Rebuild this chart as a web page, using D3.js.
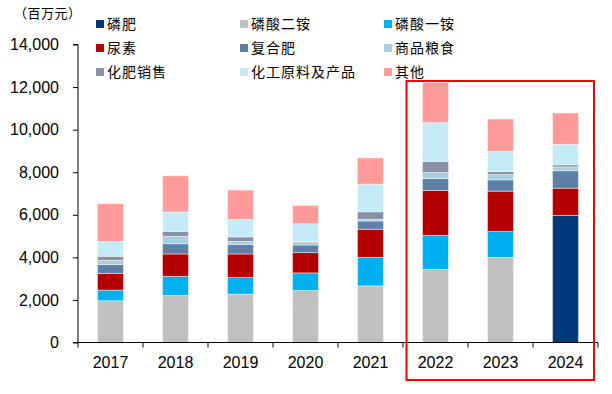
<!DOCTYPE html>
<html><head><meta charset="utf-8">
<script src="https://cdn.jsdelivr.net/npm/d3@7"></script>
<style>body{margin:0;background:#fff}svg{display:block}</style>
</head><body><svg id="c" width="612" height="394"></svg>
<script>
const years = ['2017','2018','2019','2020','2021','2022','2023','2024'];
const seriesNames = ['磷肥','磷酸二铵','磷酸一铵','尿素','复合肥','商品粮食','化肥销售','化工原料及产品','其他'];
const linfei   = [0,0,0,0,0,0,0,5970];
const dap      = [1960,2210,2270,2440,2660,3430,4000,0];
const map      = [500,900,780,830,1340,1600,1210,0];
const urea     = [780,1050,1110,950,1320,2110,1900,1280];
const compound = [420,480,450,360,390,560,530,820];
const grain    = [200,350,140,110,70,290,250,180];
const fertSale = [190,230,210,50,360,520,140,100];
const chem     = [690,910,820,840,1300,1820,950,960];
const other    = [1780,1700,1380,860,1230,1890,1520,1470];
const yTicks = [0,2000,4000,6000,8000,10000,12000,14000];
const colors = ['#003878','#c0c0c0','#00b0f0','#b40000','#5e80a8','#a8cfe0','#8890a8','#c5eaf8','#ff9a9a'];

const seriesVals = [linfei,dap,map,urea,compound,grain,fertSale,chem,other];
const rows = years.map((y,i)=>{const r={year:y}; seriesNames.forEach((n,k)=>r[n]=seriesVals[k][i]); return r;});
const stacked = d3.stack().keys(seriesNames)(rows);

const svg = d3.select('#c');
const x = d3.scaleBand().domain(years).range([78,598]).paddingInner(0.6).paddingOuter(0.3);
const y = d3.scaleLinear().domain([0,14000]).range([342.5,44.5]);

svg.append('g').selectAll('g').data(stacked).join('g')
  .attr('fill',(d,i)=>colors[i])
  .selectAll('rect').data(d=>d).join('rect')
  .attr('x',d=>x(d.data.year))
  .attr('width',x.bandwidth())
  .attr('y',d=>y(d[1]))
  .attr('height',d=>Math.max(0,y(d[0])-y(d[1])))
  .attr('stroke','rgba(255,255,255,0.55)').attr('stroke-width',0.8);

// y axis
const ya = svg.append('g').attr('transform','translate(78,0)')
  .call(d3.axisLeft(y).tickValues(yTicks).tickFormat(d3.format(',')).tickSize(5).tickPadding(14));
ya.select('.domain').attr('stroke','#000').attr('d','M-5,'+y(14000)+'H0V'+y(0));
ya.selectAll('.tick line').attr('stroke','#000');
ya.selectAll('text').attr('font-family','"Liberation Sans", Arial, sans-serif').attr('font-size',16).attr('fill','#000');

// x axis
svg.append('line').attr('x1',73).attr('x2',598).attr('y1',y(0)).attr('y2',y(0)).attr('stroke','#000');
const bounds = d3.range(years.length+1).map(i=>78+i*x.step());
svg.append('g').selectAll('line').data(bounds).join('line')
  .attr('x1',d=>d).attr('x2',d=>d).attr('y1',y(0)).attr('y2',y(0)+5).attr('stroke','#000');
svg.append('g').selectAll('text').data(years).join('text')
  .attr('x',d=>x(d)+x.bandwidth()/2).attr('y',368)
  .attr('text-anchor','middle')
  .attr('font-family','"Liberation Sans", Arial, sans-serif').attr('font-size',16).attr('fill','#000')
  .text(d=>d);

// unit
svg.append('text').attr('x',14).attr('y',18)
  .attr('font-family','"Noto Sans CJK SC", sans-serif').attr('font-size',13).attr('fill','#000')
  .attr('letter-spacing',0.5)
  .text('（百万元）');

// legend
const colX = [96,240,384], rowY = [24,48,72];
const lg = svg.append('g').selectAll('g').data(seriesNames).join('g')
  .attr('transform',(d,i)=>`translate(${colX[i%3]},${rowY[Math.floor(i/3)]})`);
lg.append('rect').attr('x',0).attr('y',-4).attr('width',8).attr('height',8).attr('fill',(d,i)=>colors[i]);
lg.append('text').attr('x',11).attr('y',0).attr('dy','0.36em')
  .attr('font-family','"Noto Sans CJK SC", sans-serif').attr('font-size',14).attr('fill','#000')
  .attr('letter-spacing',1)
  .text(d=>d);

// highlight box
svg.append('rect').attr('x',406.5).attr('y',81).attr('width',187.5).attr('height',299)
  .attr('fill','none').attr('stroke','#ff0000').attr('stroke-width',2);
</script></body></html>
